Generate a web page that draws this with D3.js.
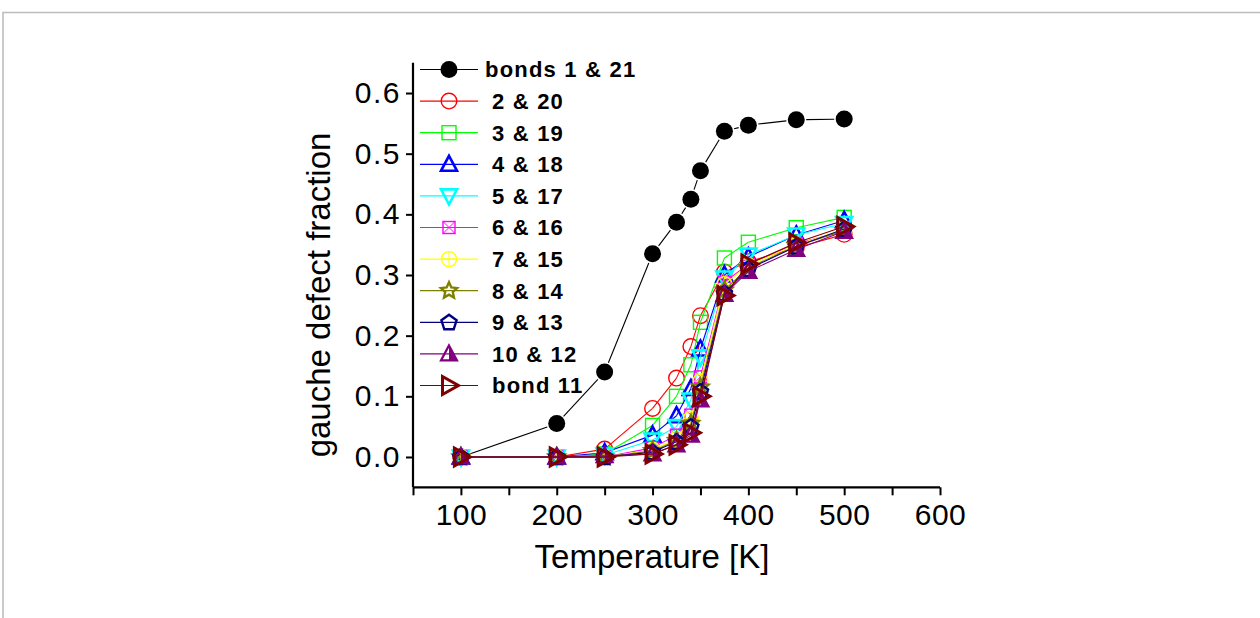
<!DOCTYPE html>
<html><head><meta charset="utf-8">
<script src="https://cdn.jsdelivr.net/npm/d3@7"></script>
<style>html,body{margin:0;padding:0;background:#fff;}svg{display:block;}</style>
</head><body>
<svg id="chart" width="1260" height="618"></svg>
<script>
const temps = [100, 200, 250, 300, 325, 340, 350, 375, 400, 450, 500];
const seriesNames = ["bonds 1 & 21", "2 & 20", "3 & 19", "4 & 18", "5 & 17", "6 & 16", "7 & 15", "8 & 14", "9 & 13", "10 & 12", "bond 11"];
const s1  = [0, 0.055, 0.140, 0.335, 0.387, 0.425, 0.472, 0.537, 0.547, 0.556, 0.557];
const s2  = [0, 0, 0.013, 0.080, 0.130, 0.182, 0.233, 0.305, 0.322, 0.345, 0.367];
const s3  = [0, 0, 0.005, 0.052, 0.100, 0.152, 0.222, 0.328, 0.354, 0.378, 0.395];
const s4  = [0, 0, 0.007, 0.036, 0.068, 0.113, 0.178, 0.300, 0.330, 0.366, 0.390];
const s5  = [0, 0, 0.003, 0.028, 0.050, 0.094, 0.165, 0.295, 0.333, 0.366, 0.385];
const s6  = [0, 0, 0, 0.015, 0.036, 0.069, 0.132, 0.288, 0.318, 0.352, 0.372];
const s7  = [0, 0, 0, 0.012, 0.030, 0.063, 0.125, 0.285, 0.316, 0.350, 0.375];
const s8  = [0, 0, 0, 0.010, 0.027, 0.055, 0.115, 0.275, 0.312, 0.348, 0.373];
const s9  = [0, 0, 0, 0.008, 0.025, 0.050, 0.108, 0.270, 0.310, 0.347, 0.376];
const s10 = [0, 0, 0.002, 0.005, 0.020, 0.036, 0.094, 0.268, 0.306, 0.342, 0.372];
const s11 = [0, 0, 0, 0.005, 0.020, 0.040, 0.100, 0.266, 0.318, 0.353, 0.380];
const xTickLabels = [100, 200, 300, 400, 500, 600];
const yTickLabels = [0.0, 0.1, 0.2, 0.3, 0.4, 0.5, 0.6];

const allValues = [s1, s2, s3, s4, s5, s6, s7, s8, s9, s10, s11];
const colors = ["#000000", "#ff0000", "#00ff00", "#0000ff", "#00ffff", "#ff00ff", "#ffff00", "#808000", "#000080", "#800080", "#800000"];
const shapes = ["fcircle", "circle", "square", "tri", "dtri", "xsquare", "pcircle", "star", "pent", "htri", "rtri"];

const svg = d3.select("#chart");
// frame border
svg.append("path").attr("d", "M3,618 V12.5 H1260").attr("fill", "none").attr("stroke", "#bdbdbd").attr("stroke-width", 1.6);

const x = d3.scaleLinear().domain([50, 600]).range([413, 940]);
const y = d3.scaleLinear().domain([-0.05, 0.65]).range([487.3, 62.7]);

const font = "'Liberation Sans', Arial, sans-serif";

// axes
const xAxis = d3.axisBottom(x).tickValues(d3.range(50, 601, 50)).tickSize(8)
  .tickFormat(d => xTickLabels.includes(d) ? d : "");
const gx = svg.append("g").attr("transform", `translate(0,${y(-0.05)})`).call(xAxis);
gx.select(".domain").attr("stroke", "#000").attr("stroke-width", 2.2).attr("d", `M${x(50)},0H${x(600)}`);
gx.selectAll(".tick line").attr("stroke", "#000").attr("stroke-width", 2);
gx.selectAll(".tick text").attr("font-family", font).attr("font-size", 30).attr("fill", "#000")
  .attr("dy", "0.92em").attr("y", 10).attr("letter-spacing", "0.5px");

const yAxis = d3.axisLeft(y).tickValues(yTickLabels).tickSize(7).tickFormat(d3.format(".1f"));
const gy = svg.append("g").attr("transform", `translate(${x(50)},0)`).call(yAxis);
gy.select(".domain").attr("stroke", "#000").attr("stroke-width", 2.2).attr("d", `M0,${y(-0.05)}V${y(0.65)}`);
gy.selectAll(".tick line").attr("stroke", "#000").attr("stroke-width", 2);
gy.selectAll(".tick text").attr("font-family", font).attr("font-size", 30).attr("fill", "#000")
  .attr("x", -12).attr("letter-spacing", "1.5px");

// axis titles
svg.append("text").attr("x", 652).attr("y", 568).attr("text-anchor", "middle")
  .attr("font-family", font).attr("font-size", 33).text("Temperature [K]");
svg.append("text").attr("transform", "translate(330,295) rotate(-90)").attr("text-anchor", "middle")
  .attr("font-family", font).attr("font-size", 33).text("gauche defect fraction");

// marker drawing
function drawMarker(g, shape, color, cx, cy) {
  const s = g.append("g").attr("transform", `translate(${cx},${cy})`);
  const sw = 1.4;
  switch (shape) {
    case "fcircle":
      s.append("circle").attr("r", 8.5).attr("fill", "#000");
      break;
    case "circle":
      s.append("circle").attr("r", 7.8).attr("fill", "none").attr("stroke", color).attr("stroke-width", sw);
      break;
    case "square":
      s.append("rect").attr("x", -7).attr("y", -7).attr("width", 14).attr("height", 14).attr("fill", "none").attr("stroke", color).attr("stroke-width", sw);
      break;
    case "tri":
      s.append("path").attr("d", "M0,-8.5 L8,6.5 L-8,6.5 Z").attr("fill", "none").attr("stroke", color).attr("stroke-width", 2.6);
      break;
    case "dtri":
      s.append("path").attr("d", "M0,8.5 L8,-6.5 L-8,-6.5 Z").attr("fill", "none").attr("stroke", color).attr("stroke-width", 2.6);
      break;
    case "xsquare":
      s.append("rect").attr("x", -6).attr("y", -6).attr("width", 12).attr("height", 12).attr("fill", "none").attr("stroke", color).attr("stroke-width", sw);
      s.append("path").attr("d", "M-6,-6L6,6M6,-6L-6,6").attr("stroke", color).attr("stroke-width", 1);
      break;
    case "pcircle":
      s.append("circle").attr("r", 7.5).attr("fill", "none").attr("stroke", color).attr("stroke-width", sw);
      s.append("path").attr("d", "M-7.5,0H7.5M0,-7.5V7.5").attr("stroke", color).attr("stroke-width", 1);
      break;
    case "star": {
      const pts = [];
      for (let i = 0; i < 10; i++) {
        const r = i % 2 === 0 ? 8.5 : 4;
        const a = -Math.PI / 2 + i * Math.PI / 5;
        pts.push([r * Math.cos(a), r * Math.sin(a)]);
      }
      s.append("path").attr("d", "M" + pts.map(p => p.join(",")).join("L") + "Z").attr("fill", "none").attr("stroke", color).attr("stroke-width", 2.4);
      break;
    }
    case "pent": {
      const pts = [];
      for (let i = 0; i < 5; i++) {
        const a = -Math.PI / 2 + i * 2 * Math.PI / 5;
        pts.push([8 * Math.cos(a), 8 * Math.sin(a) + 0.5]);
      }
      s.append("path").attr("d", "M" + pts.map(p => p.join(",")).join("L") + "Z").attr("fill", "none").attr("stroke", color).attr("stroke-width", 2.4);
      break;
    }
    case "htri":
      s.append("path").attr("d", "M0,-8.5 L8,6.5 L0,6.5 Z").attr("fill", color);
      s.append("path").attr("d", "M0,-8.5 L8,6.5 L-8,6.5 Z").attr("fill", "none").attr("stroke", color).attr("stroke-width", 2.2);
      break;
    case "rtri":
      s.append("path").attr("d", "M-6.5,-9 L9.5,0 L-6.5,9 Z").attr("fill", "none").attr("stroke", color).attr("stroke-width", 3);
      break;
  }
}

// series
const plot = svg.append("g");
allValues.forEach((vals, i) => {
  const pts = temps.map((t, j) => [x(t), y(vals[j])]);
  const g = plot.append("g");
  const gap = i === 0 ? 10 : 0;
  for (let j = 0; j < pts.length - 1; j++) {
    const [x0, y0] = pts[j], [x1, y1] = pts[j + 1];
    const len = Math.hypot(x1 - x0, y1 - y0);
    if (len <= 2 * gap + 1) continue;
    const ux = (x1 - x0) / len, uy = (y1 - y0) / len;
    g.append("line").attr("x1", x0 + ux * gap).attr("y1", y0 + uy * gap)
      .attr("x2", x1 - ux * gap).attr("y2", y1 - uy * gap)
      .attr("stroke", colors[i]).attr("stroke-width", 1.1);
  }
  pts.forEach(p => drawMarker(g, shapes[i], colors[i], p[0], p[1]));
});

// legend
const leg = svg.append("g");
seriesNames.forEach((name, i) => {
  const ly = 69.5 + i * 31.6;
  leg.append("line").attr("x1", 420).attr("x2", 478).attr("y1", ly).attr("y2", ly).attr("stroke", colors[i]).attr("stroke-width", 1.2);
  drawMarker(leg, shapes[i], colors[i], 449, ly);
  leg.append("text").attr("x", i === 0 ? 485 : 492).attr("y", ly).attr("dy", "0.36em")
    .attr("font-family", font).attr("font-weight", "bold").attr("font-size", 22)
    .attr("letter-spacing", "1.2px").text(name);
});
</script>
</body></html>
